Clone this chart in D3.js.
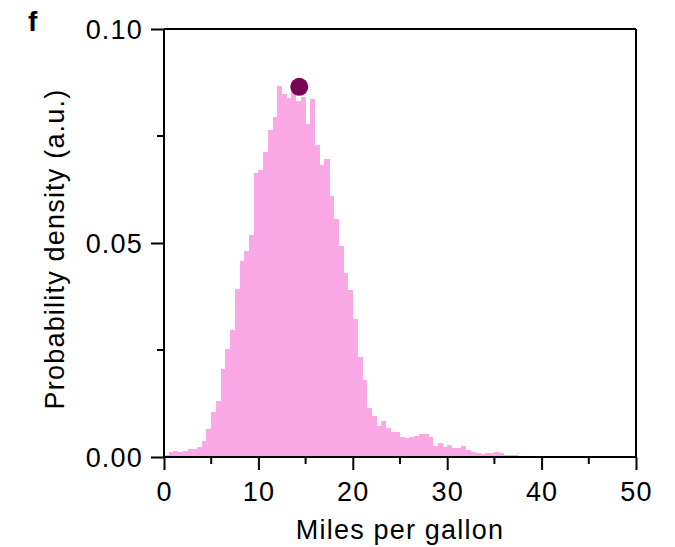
<!DOCTYPE html>
<html>
<head>
<meta charset="utf-8">
<script src="https://cdn.jsdelivr.net/npm/d3@7"></script>
<style>
  html, body { margin: 0; padding: 0; background: #fff; }
  svg { display: block; }
  text { font-family: "Liberation Sans", Arial, Helvetica, sans-serif; fill: #000; }
</style>
</head>
<body>
<svg id="chart" width="675" height="547"></svg>
<script>
// ---- data ----
const binStarts = [
  0,0.5,1,1.5,2,2.5,3,3.5,4,4.5,5,5.5,6,6.5,7,7.5,8,8.5,9,9.5,
  10,10.5,11,11.5,12,12.5,13,13.5,14,14.5,15,15.5,16,16.5,17,17.5,18,18.5,19,19.5,
  20,20.5,21,21.5,22,22.5,23,23.5,24,24.5,25,25.5,26,26.5,27,27.5,28,28.5,29,29.5,
  30,30.5,31,31.5,32,32.5,33,33.5,34,34.5,35,35.5,36,36.5,37,37.5,38,38.5,39,39.5,
  40,40.5,41,41.5,42,42.5,43,43.5,44,44.5,45,45.5,46,46.5,47,47.5,48,48.5,49,49.5
];
const binWidth = 0.5;
const density = [
  0.0005,0.0012,0.0014,0.0012,0.0014,0.0019,0.0019,0.0023,0.0037,0.0065,
  0.0106,0.0131,0.0206,0.0252,0.0297,0.0393,0.0458,0.0481,0.0519,0.0664,
  0.0671,0.0713,0.0764,0.0794,0.0867,0.0848,0.0839,0.0854,0.0832,0.0841,
  0.0779,0.0836,0.0729,0.0682,0.0696,0.0610,0.0556,0.0493,0.0430,0.0390,
  0.0322,0.0234,0.0180,0.0114,0.0096,0.0072,0.0084,0.0068,0.0058,0.0058,
  0.0047,0.0044,0.0047,0.0049,0.0054,0.0054,0.0047,0.0026,0.0033,0.0023,
  0.0028,0.0021,0.0021,0.0026,0.0016,0.0012,0.0009,0.0007,0.0009,0.0009,
  0.0012,0.0009,0.0005,0.0005,0.0005,0.0002,0,0,0,0.0003,
  0.0003,0.0003,0,0,0.0003,0,0,0,0,0.0003,
  0,0,0,0,0,0,0,0,0,0
];
const peakPoint = [14.33, 0.0865];
const xMajorTicks = [0, 10, 20, 30, 40, 50];
const xMinorTicks = [5, 15, 25, 35, 45];
const yMajorTicks = [0, 0.05, 0.10];
const yTickLabels = ["0.00", "0.05", "0.10"];
const yMinorTicks = [0.025, 0.075];
const xLabel = "Miles per gallon";
const yLabel = "Probability density (a.u.)";
const panelLetter = "f";

// ---- layout ----
const svg = d3.select("#chart");
const mLeft = 164, mRight = 636, mTop = 29, mBottom = 457;
const x = d3.scaleLinear().domain([0, 50]).range([mLeft, mRight]);
const y = d3.scaleLinear().domain([0, 0.10]).range([mBottom, mTop]);

const barColor = "#faa8e6";
const dotColor = "#7a0354";
const fontSize = 27;
const ls = "1.2px";

// bars
svg.append("g")
  .selectAll("rect")
  .data(binStarts.map((b, i) => ({b, v: density[i]})).filter(d => d.v > 0))
  .join("rect")
  .attr("x", d => x(d.b))
  .attr("width", d => x(d.b + binWidth) - x(d.b) + 0.3)
  .attr("y", d => y(d.v))
  .attr("height", d => y(0) - y(d.v))
  .attr("fill", barColor)
  .attr("shape-rendering", "crispEdges");

// peak dot
svg.append("circle")
  .attr("cx", x(peakPoint[0]))
  .attr("cy", y(peakPoint[1]))
  .attr("r", 9)
  .attr("fill", dotColor);

// frame (top and right)
svg.append("line").attr("x1", mLeft).attr("x2", mRight).attr("y1", mTop).attr("y2", mTop)
  .attr("stroke", "#000").attr("stroke-width", 2);
svg.append("line").attr("x1", mRight).attr("x2", mRight).attr("y1", mTop).attr("y2", mBottom)
  .attr("stroke", "#000").attr("stroke-width", 2);

// x axis
const xAxis = svg.append("g").attr("transform", `translate(0,${mBottom})`)
  .call(d3.axisBottom(x).tickValues(xMajorTicks).tickFormat(d3.format("d")).tickSize(13).tickSizeOuter(0).tickPadding(11));
xAxis.attr("font-family", null).attr("font-size", null);
xAxis.select(".domain").attr("stroke-width", 2).attr("d", `M${mLeft},0H${mRight}`);
xAxis.selectAll(".tick line").attr("stroke-width", 2);
xAxis.selectAll(".tick text").attr("font-size", fontSize)
  .style("letter-spacing", ls).attr("dy", null).attr("y", 44);

svg.append("g").selectAll("line").data(xMinorTicks).join("line")
  .attr("x1", d => x(d)).attr("x2", d => x(d))
  .attr("y1", mBottom).attr("y2", mBottom + 7)
  .attr("stroke", "#000").attr("stroke-width", 2);

// y axis
const yAxis = svg.append("g").attr("transform", `translate(${mLeft},0)`)
  .call(d3.axisLeft(y).tickValues(yMajorTicks).tickFormat((d, i) => yTickLabels[i]).tickSize(13).tickSizeOuter(0).tickPadding(8));
yAxis.attr("font-family", null).attr("font-size", null);
yAxis.select(".domain").attr("stroke-width", 2).attr("d", `M0,${mTop}V${mBottom}`);
yAxis.selectAll(".tick line").attr("stroke-width", 2);
yAxis.selectAll(".tick text").attr("font-size", fontSize).style("letter-spacing", ls).attr("dy", "0.35em");

svg.append("g").selectAll("line").data(yMinorTicks).join("line")
  .attr("x1", mLeft - 7).attr("x2", mLeft)
  .attr("y1", d => y(d)).attr("y2", d => y(d))
  .attr("stroke", "#000").attr("stroke-width", 2);

// axis labels
svg.append("text")
  .attr("x", (mLeft + mRight) / 2).attr("y", 539)
  .attr("text-anchor", "middle")
  .attr("font-size", fontSize).style("letter-spacing", ls)
  .text(xLabel);

svg.append("text")
  .attr("transform", "translate(64,249) rotate(-90)")
  .attr("text-anchor", "middle")
  .attr("font-size", fontSize).style("letter-spacing", ls)
  .text(yLabel);

// panel letter
svg.append("text")
  .attr("x", 28).attr("y", 31)
  .attr("font-size", 28).attr("font-weight", "bold")
  .text(panelLetter);
</script>
</body>
</html>
